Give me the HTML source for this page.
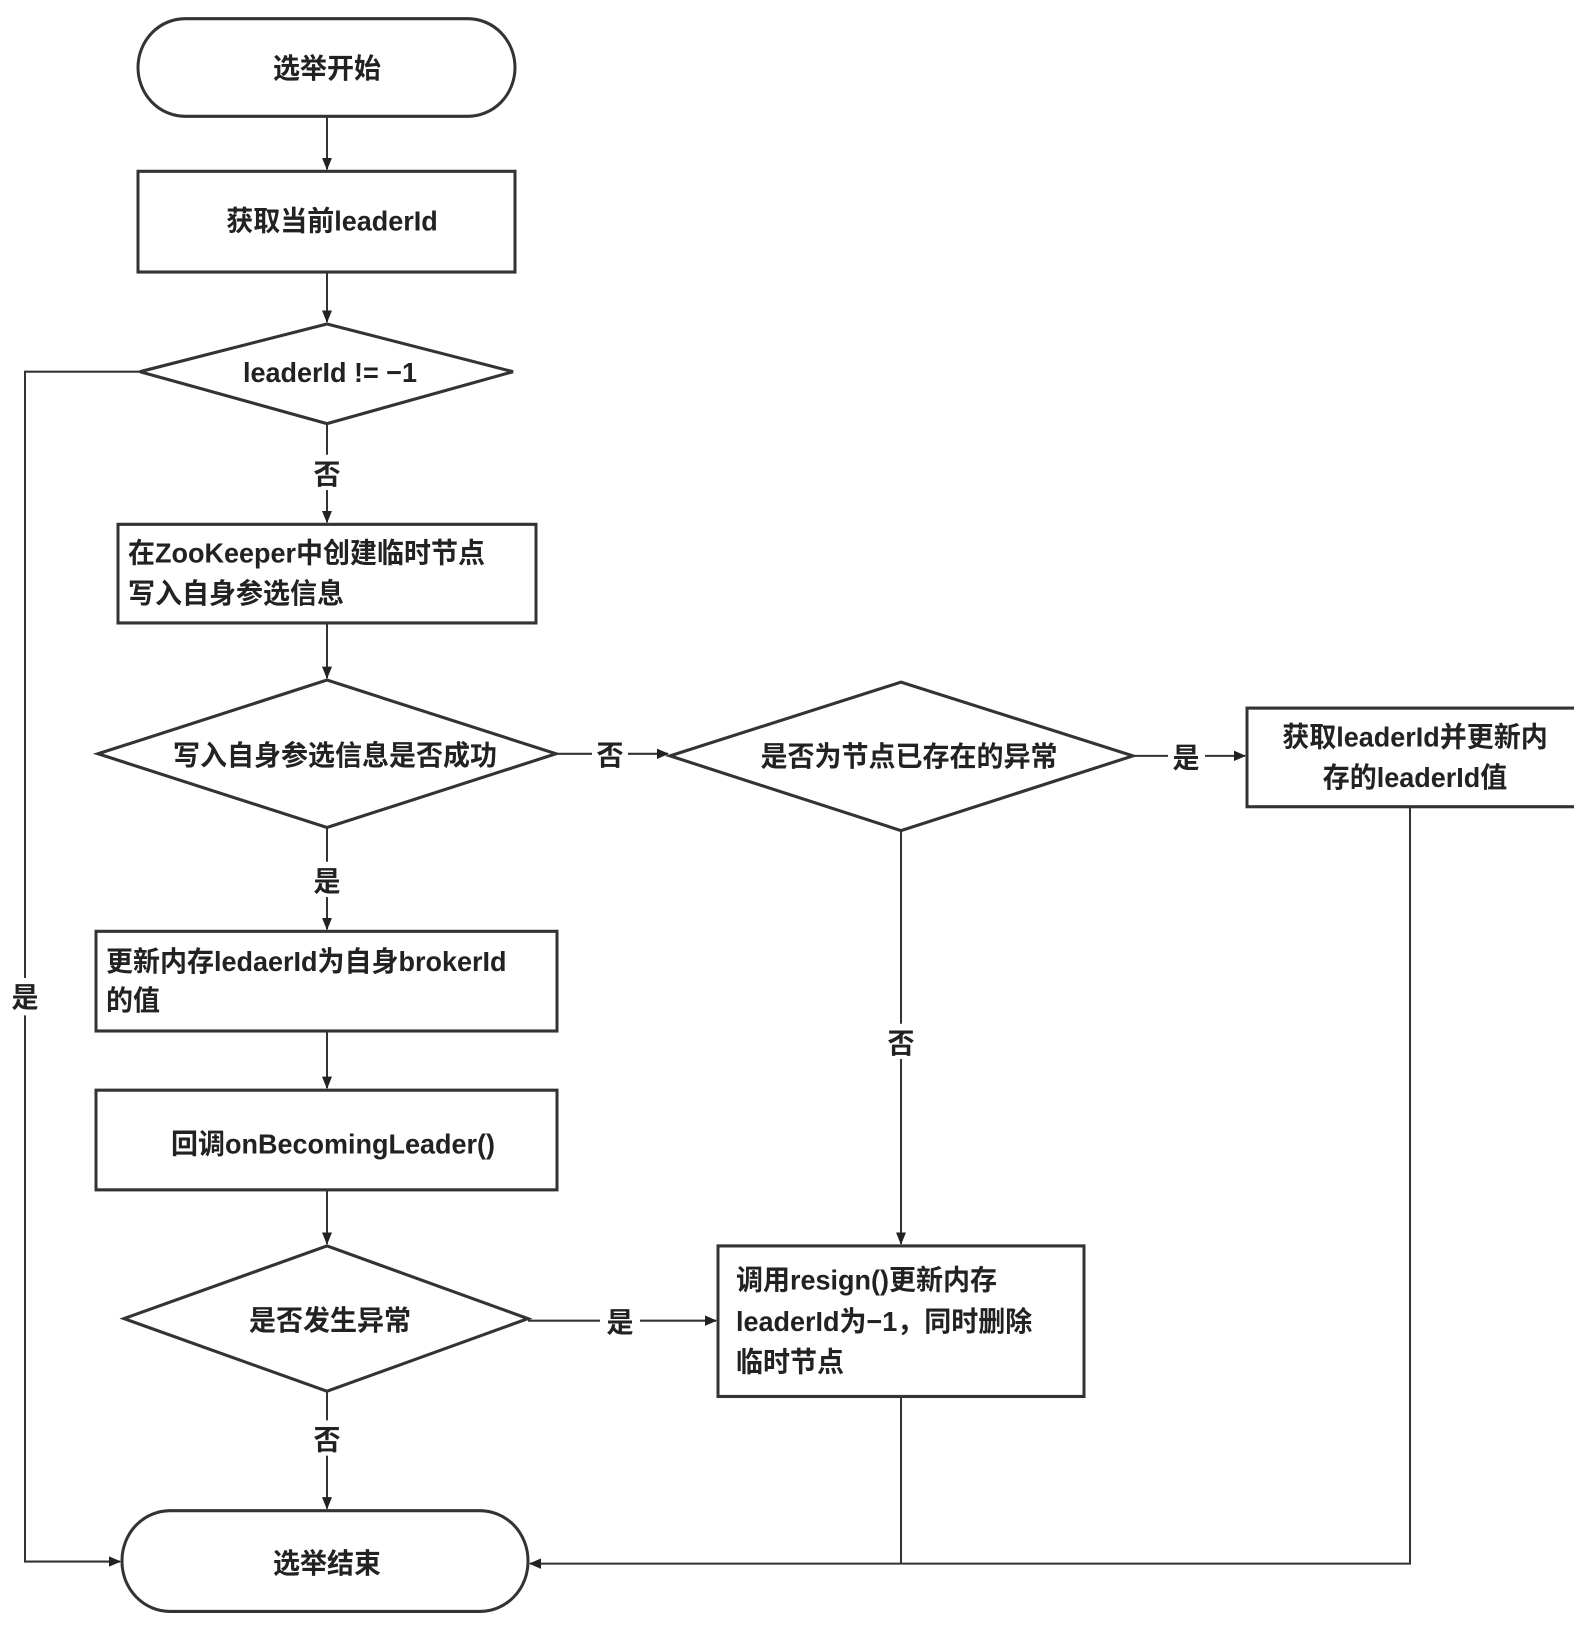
<!DOCTYPE html>
<html><head><meta charset="utf-8"><style>
html,body{margin:0;padding:0;background:#fff;}
svg text{font-family:"Liberation Sans","Noto Sans CJK SC",sans-serif;font-size:27px;fill:#222;font-weight:bold;}
</style></head><body>
<svg width="1574" height="1628" viewBox="0 0 1574 1568" preserveAspectRatio="none" xmlns="http://www.w3.org/2000/svg" style="display:block">
<defs><marker id="a" markerWidth="12" markerHeight="10" refX="11" refY="5" orient="auto" markerUnits="userSpaceOnUse"><path d="M0,0 L12,5 L0,10 z" fill="#222"/></marker></defs>
<g fill="#fff" stroke="#333" stroke-width="3">
<rect x="138" y="18" width="377" height="94" rx="47"/>
<rect x="138" y="165" width="377" height="97"/>
<polygon points="140,358 327,312 513,358 327,408"/>
<rect x="118" y="505" width="418" height="95"/>
<polygon points="98,726 327,655 556,726 327,797"/>
<polygon points="670,728 901,657 1133,728 901,800"/>
<rect x="1247" y="682" width="340" height="95"/>
<rect x="96" y="897" width="461" height="96"/>
<rect x="96" y="1050" width="461" height="96"/>
<polygon points="124,1270 327,1200 528,1270 327,1340"/>
<rect x="718" y="1200" width="366" height="145"/>
<rect x="122" y="1455" width="406" height="97" rx="48"/>
</g>
<g stroke="#333" stroke-width="2" fill="none">
<line x1="327" y1="112" x2="327" y2="163" marker-end="url(#a)"/>
<line x1="327" y1="262" x2="327" y2="310" marker-end="url(#a)"/>
<line x1="327" y1="408" x2="327" y2="438"/>
<line x1="327" y1="472" x2="327" y2="503" marker-end="url(#a)"/>
<line x1="327" y1="600" x2="327" y2="653" marker-end="url(#a)"/>
<line x1="556" y1="726" x2="592" y2="726"/>
<line x1="628" y1="726" x2="668" y2="726" marker-end="url(#a)"/>
<line x1="1133" y1="728" x2="1168" y2="728"/>
<line x1="1205" y1="728" x2="1245" y2="728" marker-end="url(#a)"/>
<line x1="327" y1="797" x2="327" y2="830"/>
<line x1="327" y1="864" x2="327" y2="895" marker-end="url(#a)"/>
<line x1="327" y1="993" x2="327" y2="1048" marker-end="url(#a)"/>
<line x1="327" y1="1146" x2="327" y2="1198" marker-end="url(#a)"/>
<line x1="528" y1="1272" x2="600" y2="1272"/>
<line x1="640" y1="1272" x2="716" y2="1272" marker-end="url(#a)"/>
<line x1="327" y1="1340" x2="327" y2="1368"/>
<line x1="327" y1="1402" x2="327" y2="1453" marker-end="url(#a)"/>
<polyline points="140,358 25,358 25,942"/>
<polyline points="25,978 25,1504 120,1504" marker-end="url(#a)"/>
<line x1="901" y1="800" x2="901" y2="986"/>
<line x1="901" y1="1020" x2="901" y2="1198" marker-end="url(#a)"/>
<line x1="901" y1="1345" x2="901" y2="1506"/>
<polyline points="1410,777 1410,1506 530,1506" marker-end="url(#a)"/>
</g>
<g text-anchor="middle">
<text x="327" y="75">选举开始</text>
<text x="332" y="222">获取当前leaderId</text>
<text x="330" y="368">leaderId != −1</text>
<text x="327" y="466">否</text>
<text x="335" y="737">写入自身参选信息是否成功</text>
<text x="610" y="737">否</text>
<text x="909" y="738">是否为节点已存在的异常</text>
<text x="1186" y="739">是</text>
<text x="1415" y="719">获取leaderId并更新内</text>
<text x="1415" y="758">存的leaderId值</text>
<text x="327" y="858">是</text>
<text x="333" y="1111">回调onBecomingLeader()</text>
<text x="330" y="1281">是否发生异常</text>
<text x="620" y="1283">是</text>
<text x="327" y="1396">否</text>
<text x="327" y="1515">选举结束</text>
<text x="25" y="970">是</text>
<text x="901" y="1014">否</text>
</g>
<g>
<text x="128" y="542">在ZooKeeper中创建临时节点</text>
<text x="128" y="581">写入自身参选信息</text>
<text x="106" y="935">更新内存ledaerId为自身brokerId</text>
<text x="106" y="973">的值</text>
<text x="736" y="1242">调用resign()更新内存</text>
<text x="736" y="1282">leaderId为−1，同时删除</text>
<text x="736" y="1321">临时节点</text>
</g>
</svg>
</body></html>
